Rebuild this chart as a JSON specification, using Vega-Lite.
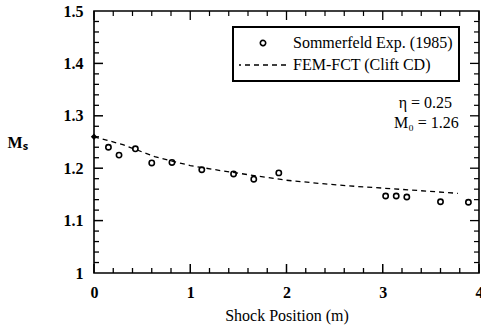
{
  "$schema": "https://vega.github.io/schema/vega-lite/v6.json",
  "width": 385,
  "height": 262,
  "autosize": {"type": "none"},
  "padding": {"left": 94, "top": 11, "right": 2, "bottom": 54},
  "background": "white",
  "config": {
    "font": "Liberation Serif",
    "view": {"stroke": "black", "strokeWidth": 1.6},
    "axis": {"labelColor": "black", "titleColor": "black", "grid": false, "labelFont": "Liberation Serif", "titleFont": "Liberation Serif", "labelFlush": false, "labelOverlap": false}
  },
  "datasets": {
    "exp": [
      {"x": 0.15, "m": 1.240}, {"x": 0.26, "m": 1.225}, {"x": 0.43, "m": 1.237},
      {"x": 0.60, "m": 1.210}, {"x": 0.81, "m": 1.211}, {"x": 1.12, "m": 1.197},
      {"x": 1.45, "m": 1.189}, {"x": 1.66, "m": 1.179}, {"x": 1.92, "m": 1.191},
      {"x": 3.03, "m": 1.147}, {"x": 3.14, "m": 1.147}, {"x": 3.25, "m": 1.145},
      {"x": 3.60, "m": 1.136}, {"x": 3.89, "m": 1.135}
    ],
    "fem": [
      {"x": 0, "m": 1.260, "series": "FEM-FCT (Clift CD)"},
      {"x": 0.3, "m": 1.245, "series": "FEM-FCT (Clift CD)"},
      {"x": 0.63, "m": 1.222, "series": "FEM-FCT (Clift CD)"},
      {"x": 1.0, "m": 1.205, "series": "FEM-FCT (Clift CD)"},
      {"x": 1.33, "m": 1.195, "series": "FEM-FCT (Clift CD)"},
      {"x": 1.7, "m": 1.185, "series": "FEM-FCT (Clift CD)"},
      {"x": 2.0, "m": 1.177, "series": "FEM-FCT (Clift CD)"},
      {"x": 2.4, "m": 1.170, "series": "FEM-FCT (Clift CD)"},
      {"x": 2.74, "m": 1.165, "series": "FEM-FCT (Clift CD)"},
      {"x": 3.0, "m": 1.162, "series": "FEM-FCT (Clift CD)"},
      {"x": 3.4, "m": 1.157, "series": "FEM-FCT (Clift CD)"},
      {"x": 3.78, "m": 1.152, "series": "FEM-FCT (Clift CD)"}
    ],
    "xmajor": [{"v": 0}, {"v": 1}, {"v": 2}, {"v": 3}, {"v": 4}],
    "xminor": [{"v": 0.2}, {"v": 0.4}, {"v": 0.6}, {"v": 0.8}, {"v": 1.2}, {"v": 1.4}, {"v": 1.6}, {"v": 1.8}, {"v": 2.2}, {"v": 2.4}, {"v": 2.6}, {"v": 2.8}, {"v": 3.2}, {"v": 3.4}, {"v": 3.6}, {"v": 3.8}],
    "ymajor": [{"v": 1.1}, {"v": 1.2}, {"v": 1.3}, {"v": 1.4}],
    "yminor": [{"v": 1.02}, {"v": 1.04}, {"v": 1.06}, {"v": 1.08}, {"v": 1.12}, {"v": 1.14}, {"v": 1.16}, {"v": 1.18}, {"v": 1.22}, {"v": 1.24}, {"v": 1.26}, {"v": 1.28}, {"v": 1.32}, {"v": 1.34}, {"v": 1.36}, {"v": 1.38}, {"v": 1.42}, {"v": 1.44}, {"v": 1.46}, {"v": 1.48}]
  },
  "layer": [
    {
      "data": {"name": "fem"},
      "mark": {"type": "line", "color": "black", "strokeWidth": 1.3},
      "encoding": {
        "x": {"field": "x", "type": "quantitative",
          "scale": {"domain": [0, 4], "nice": false, "zero": false},
          "axis": {"values": [0, 1, 2, 3, 4], "format": "d", "ticks": false, "domain": false,
            "labelFontSize": 16, "labelFontWeight": "bold", "labelPadding": 11,
            "title": "Shock Position (m)", "titleFontSize": 16, "titleFontWeight": "normal", "titleY": 42, "titleBaseline": "middle"}},
        "y": {"field": "m", "type": "quantitative",
          "scale": {"domain": [1, 1.5], "nice": false, "zero": false},
          "axis": {"values": [1, 1.1, 1.2, 1.3, 1.4, 1.5], "format": "~g", "ticks": false, "domain": false,
            "labelFontSize": 16, "labelFontWeight": "bold", "labelPadding": 11,
            "title": "Mₛ", "titleAngle": 0, "titleFontSize": 16, "titleFontWeight": "bold", "titleX": -77, "titleY": 131, "titleAlign": "center", "titleBaseline": "middle"}},
        "strokeDash": {"field": "series", "type": "nominal",
          "scale": {"domain": ["Sommerfeld Exp. (1985)", "FEM-FCT (Clift CD)"], "range": [[1, 0], [5, 4]]},
          "legend": {"title": null, "orient": "none", "legendX": 139, "legendY": 16,
            "padding": 6, "strokeColor": "black", "fillColor": "white",
            "clipHeight": 20, "rowPadding": 2, "symbolOffset": 16, "labelOffset": 22,
            "labelFont": "Liberation Serif", "labelFontSize": 16, "labelColor": "black", "labelLimit": 300,
            "encoding": {
              "legend": {"strokeWidth": {"value": 2}},
              "symbols": {
                "shape": {"value": {"expr": "datum.value === 'Sommerfeld Exp. (1985)' ? 'circle' : 'stroke'"}},
                "size": {"value": {"expr": "datum.value === 'Sommerfeld Exp. (1985)' ? 28 : 2916"}},
                "stroke": {"value": "black"},
                "fill": {"value": "transparent"},
                "strokeWidth": {"value": {"expr": "datum.value === 'Sommerfeld Exp. (1985)' ? 1.6 : 1.3"}}
              }
            }}}
      }
    },
    {
      "data": {"name": "exp"},
      "mark": {"type": "point", "shape": "circle", "filled": false, "color": "black", "size": 28, "strokeWidth": 1.6, "opacity": 1},
      "encoding": {
        "x": {"field": "x", "type": "quantitative"},
        "y": {"field": "m", "type": "quantitative"}
      }
    },
    {
      "data": {"name": "fem"},
      "transform": [{"filter": "datum.x === 0"}],
      "mark": {"type": "point", "shape": "diamond", "filled": true, "color": "black", "size": 40, "opacity": 1},
      "encoding": {
        "x": {"field": "x", "type": "quantitative"},
        "y": {"field": "m", "type": "quantitative"}
      }
    },
    {
      "data": {"name": "xmajor"},
      "mark": {"type": "rule", "color": "black", "strokeWidth": 1.5},
      "encoding": {"x": {"field": "v", "type": "quantitative"}, "y": {"datum": 1, "type": "quantitative"}, "y2": {"datum": 1.0172}}
    },
    {
      "data": {"name": "xmajor"},
      "mark": {"type": "rule", "color": "black", "strokeWidth": 1.3},
      "encoding": {"x": {"field": "v", "type": "quantitative"}, "y": {"datum": 1.5, "type": "quantitative"}, "y2": {"datum": 1.4828}}
    },
    {
      "data": {"name": "xminor"},
      "mark": {"type": "rule", "color": "black", "strokeWidth": 1.3},
      "encoding": {"x": {"field": "v", "type": "quantitative"}, "y": {"datum": 1, "type": "quantitative"}, "y2": {"datum": 1.0095}}
    },
    {
      "data": {"name": "xminor"},
      "mark": {"type": "rule", "color": "black", "strokeWidth": 1.2},
      "encoding": {"x": {"field": "v", "type": "quantitative"}, "y": {"datum": 1.5, "type": "quantitative"}, "y2": {"datum": 1.4905}}
    },
    {
      "data": {"name": "ymajor"},
      "mark": {"type": "rule", "color": "black", "strokeWidth": 1.5},
      "encoding": {"y": {"field": "v", "type": "quantitative"}, "x": {"datum": 0, "type": "quantitative"}, "x2": {"datum": 0.0935}}
    },
    {
      "data": {"name": "ymajor"},
      "mark": {"type": "rule", "color": "black", "strokeWidth": 1.3},
      "encoding": {"y": {"field": "v", "type": "quantitative"}, "x": {"datum": 4, "type": "quantitative"}, "x2": {"datum": 3.9065}}
    },
    {
      "data": {"name": "yminor"},
      "mark": {"type": "rule", "color": "black", "strokeWidth": 1.3},
      "encoding": {"y": {"field": "v", "type": "quantitative"}, "x": {"datum": 0, "type": "quantitative"}, "x2": {"datum": 0.052}}
    },
    {
      "data": {"name": "yminor"},
      "mark": {"type": "rule", "color": "black", "strokeWidth": 1.2},
      "encoding": {"y": {"field": "v", "type": "quantitative"}, "x": {"datum": 4, "type": "quantitative"}, "x2": {"datum": 3.948}}
    },
    {
      "data": {"values": [{"label": "η = 0.25"}]},
      "mark": {"type": "text", "align": "right", "baseline": "middle", "font": "Liberation Serif", "fontSize": 16, "color": "black"},
      "encoding": {
        "text": {"field": "label"},
        "x": {"datum": 3.72, "type": "quantitative"},
        "y": {"datum": 1.324, "type": "quantitative"}
      }
    },
    {
      "data": {"values": [{"label": "M₀ = 1.26"}]},
      "mark": {"type": "text", "align": "right", "baseline": "middle", "font": "Liberation Serif", "fontSize": 16, "color": "black"},
      "encoding": {
        "text": {"field": "label"},
        "x": {"datum": 3.79, "type": "quantitative"},
        "y": {"datum": 1.286, "type": "quantitative"}
      }
    }
  ]
}
